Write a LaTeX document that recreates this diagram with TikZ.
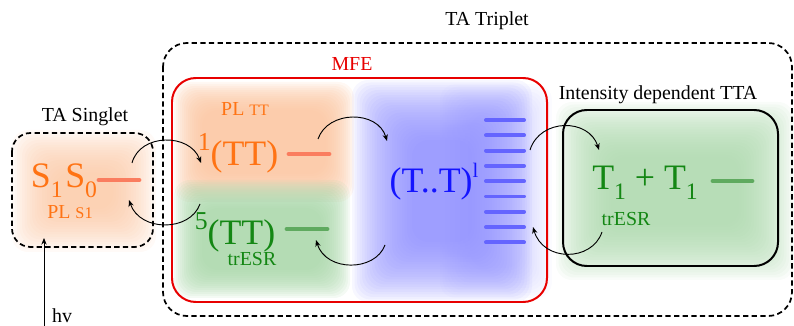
\documentclass[tikz,border=0pt]{standalone}
\usepackage{fontspec}
\setmainfont{Liberation Serif}
\usepackage{graphicx}
\usetikzlibrary{arrows.meta}
\definecolor{orTxt}{RGB}{255,115,20}
\definecolor{orBar}{RGB}{250,125,95}
\definecolor{orGlow}{RGB}{251,196,158}
\definecolor{grTxt}{RGB}{20,135,20}
\definecolor{grBar}{RGB}{95,170,95}
\definecolor{grGlow}{RGB}{168,214,168}
\definecolor{blTxt}{RGB}{20,20,255}
\definecolor{blBar}{RGB}{100,100,255}
\definecolor{blGlow}{RGB}{140,140,255}
\definecolor{mfeRed}{RGB}{232,0,0}
\newcommand\lo[1]{\raisebox{-0.28em}{\scalebox{0.66}{#1}}}
\newcommand\hi[1]{\raisebox{0.42em}{\scalebox{0.72}{#1}}}
% color, x1,y1,x2,y2, steps, step size, opacity
\newcommand\glowbox[8]{%
  \foreach \k in {0,...,#6}{%
    \fill[#1, opacity=#8, rounded corners=12] (#2+#7*\k,#3+#7*\k) rectangle (#4-#7*\k,#5-#7*\k);}}
\begin{document}
\begin{tikzpicture}[x=0.0265cm,y=-0.0265cm,
  lbl/.style={inner sep=0pt, font=\fontsize{15}{18}\selectfont},
  big/.style={inner sep=0pt, font=\fontsize{27}{30}\selectfont},
  sml/.style={inner sep=0pt, font=\fontsize{15}{18}\selectfont},
  dbox/.style={draw=black, line width=1.3pt, dash pattern=on 4pt off 2.5pt, rounded corners=18},
  sbox/.style={draw=black, line width=1.5pt, rounded corners=18},
  bar/.style={line width=3.6pt, line cap=round},
  arr/.style={draw=black, line width=0.7pt, -{Stealth[length=5pt,width=4pt]}}]
\useasboundingbox (0,0) rectangle (794,326);
% glows
\glowbox{orGlow}{12}{130}{156}{252}{17}{2.5}{0.08}
\glowbox{orGlow}{174}{82}{354}{202}{14}{2}{0.12}
\glowbox{grGlow}{174}{180}{350}{298}{14}{2}{0.12}
\glowbox{blGlow}{352}{80}{532}{302}{24}{2.5}{0.07}
\glowbox{blGlow}{440}{84}{552}{298}{12}{2.5}{0.03}
\glowbox{grGlow}{556}{102}{794}{280}{22}{2.5}{0.075}
% boxes
\draw[dbox] (163,43) rectangle (792,316);
\draw[dbox, rounded corners=14] (12,133) rectangle (153,247);
\draw[draw=mfeRed, line width=1.5pt, rounded corners=18] (172,78) rectangle (547,302);
\draw[sbox] (563,110) rectangle (778,266);
% labels
\node[lbl] (tatrip) at (487,21) {TA Triplet};
\node[lbl] (tasing) at (85,117) {TA Singlet};
\node[lbl, text=mfeRed] (mfe) at (352,64) {MFE};
\node[lbl] (itta) at (658,95) {Intensity dependent TTA};
% singlet
\node[big, text=orTxt] (s1s0) at (64,181) {S\lo{1}\hspace{2pt}S\lo{0}};
\node[sml, text=orTxt] (pls1) at (70,212) {PL \scalebox{0.82}{S1}};
\draw[bar, orBar] (99,180) coordinate (sbarL) -- (139,180) coordinate (sbarR);
% 1(TT)
\node[sml, text=orTxt] (pltt) at (245,109) {PL \scalebox{0.8}{TT}};
\node[big, text=orTxt] (tt1) at (238,153) {\hi{1}(TT)};
\draw[bar, orBar] (289,154) -- (329,154);
% 5(TT)
\node[big, text=grTxt] (tt5) at (235,232) {\hi{5}(TT)};
\node[sml, text=grTxt] (tresr1) at (252,259) {trESR};
\draw[bar, grBar] (287,229) -- (327,229);
% (T..T)
\node[big, text=blTxt] (tdt) at (434,182) {(T..T)\hi{\scalebox{0.8}{l}}};
\foreach \i in {0,...,8}{\draw[line width=3pt, line cap=round, blBar] (486,120+15.3*\i) -- (524,120+15.3*\i);}
% T1 + T1
\node[big, text=grTxt] (t1t1) at (645,183) {T\lo{1} + T\lo{1}};
\node[sml, text=grTxt] (tresr2) at (626,219) {trESR};
\draw[bar, grBar] (713,181) -- (752,181);
% hv
\coordinate (hvstart) at (44,326);
\coordinate (hvend) at (44,238);
\node[lbl] (hv) at (62,316) {hv};
\draw[arr] (hvstart) -- (hvend);
% connectors
\coordinate (a1s) at (132,163); \coordinate (a1e) at (201,163);
\draw[arr] (a1s) .. controls (140,133) and (190,133) .. (a1e);
\coordinate (a2s) at (200,204); \coordinate (a2e) at (129,200);
\draw[arr] (a2s) .. controls (190,232) and (140,232) .. (a2e);
\coordinate (a3s) at (318,139); \coordinate (a3e) at (387,141);
\draw[arr] (a3s) .. controls (328,110) and (378,110) .. (a3e);
\coordinate (a4s) at (385,245); \coordinate (a4e) at (316,240);
\draw[arr] (a4s) .. controls (375,272) and (326,272) .. (a4e);
\coordinate (a5s) at (530,150); \coordinate (a5e) at (599,150);
\draw[arr] (a5s) .. controls (540,118) and (589,118) .. (a5e);
\coordinate (a6s) at (602,232); \coordinate (a6e) at (533,227);
\draw[arr] (a6s) .. controls (592,262) and (543,262) .. (a6e);
\end{tikzpicture}
\end{document}
